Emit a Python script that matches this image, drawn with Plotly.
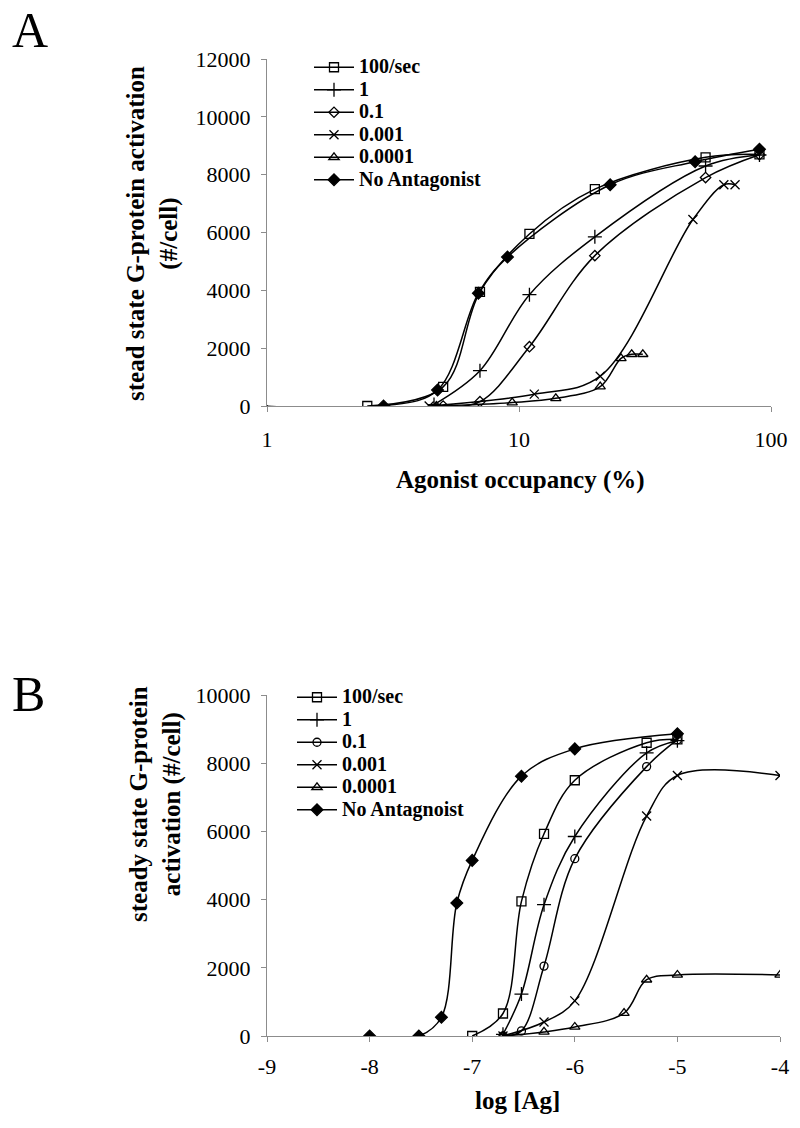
import plotly.graph_objects as go

# ---- Panel A: x = agonist occupancy (%) ----
a_names = ["100/sec", "1", "0.1", "0.001", "0.0001", "No Antagonist"]
a_x_100 = [2.5, 5.0, 7.0, 11, 20, 55, 90]
a_y_100 = [0, 660, 3950, 5950, 7500, 8600, 8700]
a_x_1 = [4.6, 7.0, 11, 20, 55, 90]
a_y_1 = [50, 1220, 3850, 5850, 8300, 8680]
a_x_01 = [5.0, 7.0, 11, 20, 55, 90]
a_y_01 = [0, 150, 2050, 5200, 7900, 8690]
a_x_0001 = [4.4, 11.5, 21, 49, 65, 72]
a_y_0001 = [0, 410, 1030, 6450, 7650, 7650]
a_x_00001 = [4.7, 9.4, 14, 21, 25.4, 28, 31]
a_y_00001 = [0, 120, 265, 670, 1650, 1790, 1790]
a_x_none = [0.95, 2.9, 4.75, 6.9, 9.0, 23, 50, 90]
a_y_none = [0, 0, 550, 3900, 5150, 7650, 8450, 8880]

# ---- Panel B: x = log [Ag] ----
b_names = ["100/sec", "1", "0.1", "0.001", "0.0001", "No Antagnoist"]
b_x_100 = [-7.0, -6.7, -6.52, -6.3, -6.0, -5.3, -5.0]
b_y_100 = [0, 660, 3950, 5930, 7500, 8600, 8700]
b_x_1 = [-6.7, -6.52, -6.3, -6.0, -5.3, -5.0]
b_y_1 = [50, 1230, 3850, 5850, 8300, 8660]
b_x_01 = [-6.7, -6.52, -6.3, -6.0, -5.3, -5.0]
b_y_01 = [0, 150, 2050, 5200, 7900, 8690]
b_x_0001 = [-6.7, -6.3, -6.0, -5.3, -5.0, -4.0]
b_y_0001 = [0, 410, 1030, 6450, 7640, 7640]
b_x_00001 = [-6.7, -6.3, -6.0, -5.52, -5.3, -5.0, -4.0]
b_y_00001 = [0, 120, 265, 670, 1650, 1790, 1790]
b_x_none = [-8.0, -7.52, -7.3, -7.15, -7.0, -6.52, -6.0, -5.0]
b_y_none = [0, 0, 550, 3900, 5150, 7620, 8420, 8860]

b_ticks = [-9, -8, -7, -6, -5, -4]
b_ticktext = ["-9", "-8", "-7", "-6", "-5", "-4"]

W, H = 800, 1128
SERIF = "Liberation Serif, Times New Roman, serif"


def px(x):
    return x / W


def py(y):
    return 1 - y / H


a_series = [(a_x_100, a_y_100), (a_x_1, a_y_1), (a_x_01, a_y_01),
            (a_x_0001, a_y_0001), (a_x_00001, a_y_00001), (a_x_none, a_y_none)]
b_series = [(b_x_100, b_y_100), (b_x_1, b_y_1), (b_x_01, b_y_01),
            (b_x_0001, b_y_0001), (b_x_00001, b_y_00001), (b_x_none, b_y_none)]

a_symbols = ["square-open", "cross-thin-open", "diamond-open", "x-thin-open",
             "triangle-up-open", "diamond"]
b_symbols = ["square-open", "cross-thin-open", "circle-open", "x-thin-open",
             "triangle-up-open", "diamond"]
sizes = [9, 10, 8, 9, 9, 9]


def legend_label(s):
    # bigger text than the legend row height allows, to keep rows tight
    return "<span style='font-size:20px'>%s</span>" % s


fig = go.Figure()

for (xs, ys), name, sym, sz in zip(a_series, a_names, a_symbols, sizes):
    fig.add_trace(go.Scatter(
        x=xs, y=ys, name=legend_label(name), mode="lines+markers",
        line=dict(color="black", width=1.5, shape="spline"),
        marker=dict(symbol=sym, size=sz, color="black",
                    line=dict(color="black", width=1.3)),
        xaxis="x", yaxis="y", legend="legend",
    ))

for (xs, ys), name, sym, sz in zip(b_series, b_names, b_symbols, sizes):
    fig.add_trace(go.Scatter(
        x=xs, y=ys, name=legend_label(name), mode="lines+markers",
        line=dict(color="black", width=1.5, shape="spline"),
        marker=dict(symbol=sym, size=sz, color="black",
                    line=dict(color="black", width=1.3)),
        xaxis="x2", yaxis="y2", legend="legend2",
    ))

axis_common = dict(
    showgrid=False, zeroline=False, showline=True, linecolor="#8c8c8c",
    linewidth=1, ticks="outside", tickcolor="#8c8c8c", ticklen=5,
    tickfont=dict(family=SERIF, size=22, color="black"), automargin=False,
)

legend_common = dict(
    font=dict(family=SERIF, size=15, color="black", weight="bold"),
    bgcolor="rgba(0,0,0,0)", xanchor="left", yanchor="top",
    tracegroupgap=0, itemwidth=40,
)

title_font = dict(family=SERIF, size=25, color="black", weight="bold")

fig.update_layout(
    width=W, height=H,
    margin=dict(l=0, r=0, t=0, b=0),
    paper_bgcolor="white", plot_bgcolor="white",
    xaxis=dict(axis_common, type="log", range=[0, 2], domain=[px(267), px(771)],
               anchor="y", tickvals=[1, 10, 100], ticktext=["1", "10", "100"],
               ticklabelstandoff=9),
    yaxis=dict(axis_common, range=[0, 12000], domain=[py(406), py(59)],
               anchor="x", dtick=2000, tickformat="d", ticklabelstandoff=6),
    xaxis2=dict(axis_common, range=[-9, -4], domain=[px(267), px(780)],
                anchor="y2", tickvals=b_ticks, ticktext=b_ticktext,
                ticklabelstandoff=6),
    yaxis2=dict(axis_common, range=[0, 10000], domain=[py(1036), py(695)],
                anchor="x2", dtick=2000, tickformat="d", ticklabelstandoff=6),
    legend=dict(legend_common, x=px(309), y=py(51)),
    legend2=dict(legend_common, x=px(292), y=py(681)),
    annotations=[
        dict(text="A", x=px(30), y=py(30), xref="paper", yref="paper",
             xanchor="center", yanchor="middle", showarrow=False,
             font=dict(family=SERIF, size=50, color="black")),
        dict(text="B", x=px(28), y=py(694), xref="paper", yref="paper",
             xanchor="center", yanchor="middle", showarrow=False,
             font=dict(family=SERIF, size=50, color="black")),
        dict(text="stead state G-protein activation<br>(#/cell)",
             x=px(153), y=py(234), xref="paper", yref="paper", textangle=-90,
             xanchor="center", yanchor="middle", showarrow=False,
             font=title_font),
        dict(text="steady state G-protein<br>activation (#/cell)",
             x=px(155), y=py(804), xref="paper", yref="paper", textangle=-90,
             xanchor="center", yanchor="middle", showarrow=False,
             font=title_font),
        dict(text="Agonist occupancy (%)", x=px(520), y=py(480),
             xref="paper", yref="paper", xanchor="center", yanchor="middle",
             showarrow=False, font=title_font),
        dict(text="log [Ag]", x=px(517), y=py(1100),
             xref="paper", yref="paper", xanchor="center", yanchor="middle",
             showarrow=False, font=title_font),
    ],
)

fig.write_html("out.html", config={"displayModeBar": False},
               post_script="document.body.style.margin='0';")
